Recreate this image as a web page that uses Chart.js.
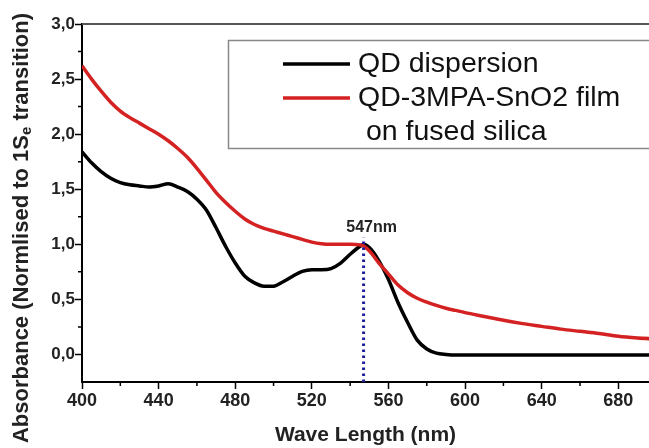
<!DOCTYPE html>
<html>
<head>
<meta charset="utf-8">
<script src="https://cdn.jsdelivr.net/npm/chart.js@4.4.1/dist/chart.umd.min.js"></script>
<style>
  html, body { margin: 0; padding: 0; background: #fff; }
  #wrap { width: 649px; height: 448px; }
</style>
</head>
<body>
<div id="wrap"><canvas id="mygraph"></canvas></div>
<script>
// Wavelengths (nm) shared by both spectra
const wavelengths = [400,405,410,415,420,425,430,435,440,445,450,455,460,465,470,475,480,485,490,495,
  500,505,510,515,520,525,530,535,540,545,547,550,555,560,565,570,575,580,585,590,595,600,
  610,620,630,640,650,660,670,680,690,700];

// QD dispersion (black)
const qdDispersion = [1.84,1.74,1.66,1.60,1.56,1.54,1.53,1.52,1.53,1.55,1.52,1.48,1.41,1.31,1.15,0.98,0.83,0.71,0.65,0.62,
  0.62,0.66,0.71,0.755,0.77,0.77,0.78,0.83,0.91,0.98,1.00,0.97,0.85,0.68,0.47,0.29,0.13,0.05,0.012,0.0,-0.005,-0.005,
  -0.005,-0.005,-0.005,-0.005,-0.005,-0.005,-0.005,-0.005,-0.005,-0.005];

// QD-3MPA-SnO2 film on fused silica (red)
const qdFilm = [2.62,2.50,2.39,2.29,2.21,2.15,2.10,2.05,2.00,1.94,1.87,1.79,1.69,1.58,1.47,1.38,1.30,1.23,1.18,1.145,
  1.12,1.095,1.07,1.045,1.02,1.005,1.00,1.00,1.00,0.995,0.985,0.94,0.83,0.73,0.63,0.56,0.51,0.475,0.445,0.42,0.40,0.38,
  0.345,0.31,0.28,0.255,0.23,0.21,0.19,0.165,0.15,0.14];

const seriesLabels = ['QD dispersion', ['QD-3MPA-SnO2 film', ' on fused silica']];

// marker for the 1Se peak
const peakNm = 547;
const peakLineTop = 1.06;
const peakLabel = '547nm';

// axis ticks
const xTickValues = [400,440,480,520,560,600,640,680];
const xTickLabels = ['400','440','480','520','560','600','640','680'];
const xMinorTicks = [420,460,500,540,580,620,660];
const yTickValues = [0,0.5,1,1.5,2,2.5,3];
const yTickLabels = ['0,0','0,5','1,0','1,5','2,0','2,5','3,0'];
const yMinorTicks = [0.25,0.75,1.25,1.75,2.25,2.75];

const xTitle = 'Wave Length (nm)';
const yTitleParts = ['Absorbance (Normlised to 1S', 'e', ' transition)'];

function toPoints(xs, ys){
  return xs.map((x, i) => ({x: x, y: ys[i]}));
}

// minor ticks, top frame line, y title, peak label and boxed legend
const extras = {
  id: 'extras',
  afterDraw(chart){
    const ctx = chart.ctx;
    const area = chart.chartArea;
    const xs = chart.scales.x, ys = chart.scales.y;
    ctx.save();

    // top frame
    ctx.strokeStyle = '#555';
    ctx.lineWidth = 2;
    ctx.beginPath();
    ctx.moveTo(area.left, area.top);
    ctx.lineTo(area.right, area.top);
    ctx.stroke();

    // minor ticks
    ctx.strokeStyle = '#000';
    ctx.lineWidth = 1.5;
    ctx.beginPath();
    xMinorTicks.forEach(v => {
      const px = xs.getPixelForValue(v);
      ctx.moveTo(px, area.bottom);
      ctx.lineTo(px, area.bottom + 4);
    });
    yMinorTicks.forEach(v => {
      const py = ys.getPixelForValue(v);
      ctx.moveTo(area.left, py);
      ctx.lineTo(area.left - 4, py);
    });
    ctx.stroke();

    // peak label
    ctx.fillStyle = '#222';
    ctx.font = 'bold 16px "Liberation Sans", Arial, sans-serif';
    ctx.textAlign = 'center';
    ctx.textBaseline = 'middle';
    ctx.fillText(peakLabel, xs.getPixelForValue(peakNm) + 8, ys.getPixelForValue(peakLineTop) - 10);

    // y axis title (rotated, with subscript e)
    ctx.save();
    ctx.translate(22, 228);
    ctx.rotate(-Math.PI / 2);
    const big = 'bold 22px "Liberation Sans", Arial, sans-serif';
    const small = 'bold 15px "Liberation Sans", Arial, sans-serif';
    ctx.font = big;
    const w0 = ctx.measureText(yTitleParts[0]).width;
    const w2 = ctx.measureText(yTitleParts[2]).width;
    ctx.font = small;
    const w1 = ctx.measureText(yTitleParts[1]).width;
    let x0 = -(w0 + w1 + w2) / 2;
    ctx.textAlign = 'left';
    ctx.fillStyle = '#222';
    ctx.font = big;
    ctx.fillText(yTitleParts[0], x0, 0);
    ctx.font = small;
    ctx.fillText(yTitleParts[1], x0 + w0, 5);
    ctx.font = big;
    ctx.fillText(yTitleParts[2], x0 + w0 + w1, 0);
    ctx.restore();

    // legend box
    ctx.fillStyle = '#fff';
    ctx.fillRect(228, 40, 440, 108);
    ctx.strokeStyle = '#888';
    ctx.lineWidth = 1.5;
    ctx.strokeRect(228.5, 40.5, 440, 108);
    ctx.font = '28.5px "Liberation Sans", Arial, sans-serif';
    ctx.textAlign = 'left';
    ctx.textBaseline = 'middle';
    let rowY = 64;
    chart.data.datasets.filter(d => !d.isMarker).forEach(d => {
      ctx.strokeStyle = d.borderColor;
      ctx.lineWidth = 3.5;
      ctx.beginPath();
      ctx.moveTo(283, rowY);
      ctx.lineTo(350, rowY);
      ctx.stroke();
      ctx.fillStyle = '#111';
      const lines = Array.isArray(d.label) ? d.label : [d.label];
      lines.forEach((t, k) => ctx.fillText(t, 358, rowY + k * 34));
      rowY += 34;
    });
    ctx.restore();
  }
};

const tickFont = {family: '"Liberation Sans", Arial, sans-serif', size: 18, weight: 'bold'};

new Chart(document.getElementById('mygraph'), {
  type: 'line',
  data: {
    datasets: [
      {
        label: 'peak', isMarker: true,
        data: [{x: peakNm, y: -0.25}, {x: peakNm, y: peakLineTop}],
        borderColor: '#1f1f9e', borderWidth: 3, borderDash: [2.6, 3.4],
        pointRadius: 0, order: 0
      },
      {
        label: seriesLabels[0],
        data: toPoints(wavelengths, qdDispersion),
        borderColor: '#000000', borderWidth: 3.5,
        pointRadius: 0, cubicInterpolationMode: 'monotone', order: 2
      },
      {
        label: seriesLabels[1],
        data: toPoints(wavelengths, qdFilm),
        borderColor: '#d42222', borderWidth: 3.5,
        pointRadius: 0, cubicInterpolationMode: 'monotone', order: 1
      }
    ]
  },
  options: {
    responsive: true,
    maintainAspectRatio: false,
    animation: false,
    layout: {padding: {left: 32, top: 24, right: 0, bottom: 0}},
    plugins: {legend: {display: false}, tooltip: {enabled: false}},
    scales: {
      x: {
        type: 'linear',
        min: 400, max: 696,
        afterBuildTicks: s => { s.ticks = xTickValues.map(v => ({value: v})); },
        afterFit: s => { s.height = 66; },
        border: {color: '#000', width: 2},
        grid: {drawOnChartArea: false, tickLength: 7, tickColor: '#000', tickWidth: 1.5},
        ticks: {
          color: '#222', font: tickFont, padding: 1, maxRotation: 0, autoSkip: false,
          callback: (v, i) => xTickLabels[i]
        },
        title: {
          display: true, text: xTitle, color: '#222',
          font: {family: '"Liberation Sans", Arial, sans-serif', size: 21, weight: 'bold'},
          padding: {top: 0, bottom: 0}
        }
      },
      y: {
        type: 'linear',
        min: -0.25, max: 3.0,
        afterBuildTicks: s => { s.ticks = yTickValues.map(v => ({value: v})); },
        afterFit: s => { s.width = 50; },
        border: {color: '#000', width: 2},
        grid: {drawOnChartArea: false, tickLength: 7, tickColor: '#000', tickWidth: 1.5},
        ticks: {
          color: '#222', font: {family: '"Liberation Sans", Arial, sans-serif', size: 17, weight: 'bold'},
          padding: 0, autoSkip: false,
          callback: (v, i) => yTickLabels[i]
        }
      }
    }
  },
  plugins: [extras]
});
</script>
</body>
</html>
